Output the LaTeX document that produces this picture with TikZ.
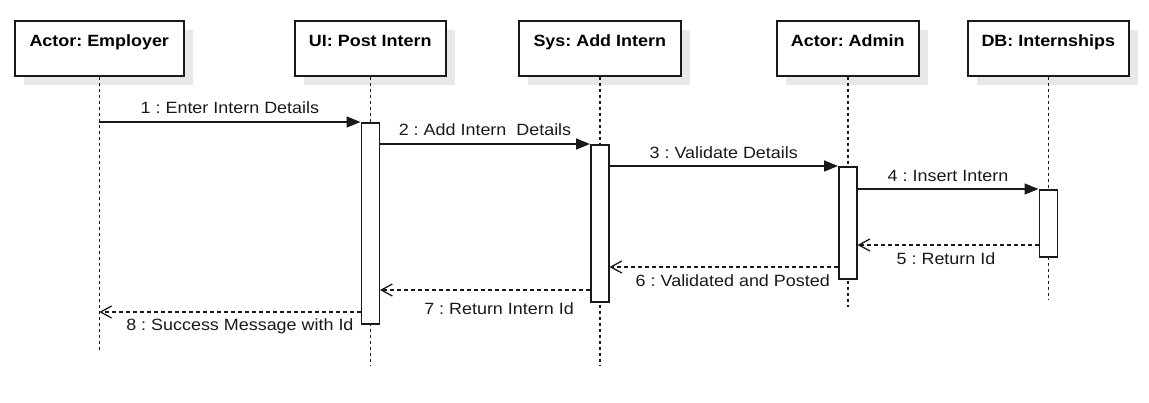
\documentclass[tikz,border=0pt]{standalone}
\usepackage{fontspec}
\setmainfont{Liberation Sans}[FakeStretch=1.1]
\usetikzlibrary{arrows.meta,shadows}
\frenchspacing
\begin{document}
\frenchspacing
\begin{tikzpicture}[x=1pt,y=-1pt,
  objbox/.style={draw=black!90, line width=1.5pt, fill=white, minimum width=#1, minimum height=55pt,
    inner sep=0pt, anchor=north west,
    general shadow={fill=black!9, shadow xshift=9pt, shadow yshift=-9pt}},
  objname/.style={font=\fontsize{16.3}{18}\selectfont\bfseries, text=black, anchor=base},
  lifeline/.style={draw=black!90, line width=1.5pt, dash pattern=on 3pt off 3pt},
  actbar/.style={draw=black!90, line width=1.5pt, fill=white, minimum width=18pt, minimum height=#1,
    inner sep=0pt, anchor=north},
  callmsg/.style={draw=black!90, line width=1.5pt, -{Triangle[length=14pt,width=11pt]}},
  retmsg/.style={draw=black!90, line width=1.4pt, dash pattern=on 4pt off 3pt, -{Straight Barb[length=11pt,width=12pt,line width=1.3pt]}},
  msglbl/.style={font=\fontsize{16.3}{18}\selectfont, text=black!90, anchor=base, inner sep=0pt}]
\useasboundingbox (0,0) rectangle (1149,402);

% object boxes
\node[objbox=169pt] (emp) at (14,20) {};
\node[objbox=151pt] (ui)  at (294,20) {};
\node[objbox=162pt] (sys) at (518,20) {};
\node[objbox=142pt] (adm) at (776,20) {};
\node[objbox=161pt] (db)  at (967,20) {};

\node[objname] (empT) at (emp.north |- 0,46) {Actor: Employer};
\node[objname] (uiT)  at (ui.north |- 0,46) {UI: Post Intern};
\node[objname] (sysT) at (sys.north |- 0,46) {Sys: Add Intern};
\node[objname] (admT) at (adm.north |- 0,46) {Actor: Admin};
\node[objname] (dbT)  at (db.north |- 0,46) {DB: Internships};

% lifeline ends
\coordinate (empE) at (emp.south |- 0,350);
\coordinate (uiE)  at (ui.south |- 0,365);
\coordinate (sysE) at (sys.south |- 0,365);
\coordinate (admE) at (adm.south |- 0,307);
\coordinate (dbE)  at (db.south |- 0,299);

\draw[lifeline] (emp.south) -- (empE);
\draw[lifeline] (ui.south) -- (uiE);
\draw[lifeline] (sys.south) -- (sysE);
\draw[lifeline] (adm.south) -- (admE);
\draw[lifeline] (db.south) -- (dbE);

% activation bars
\node[actbar=201pt] (uiB)  at (ui.south |- 0,122) {};
\node[actbar=157pt] (sysB) at (sys.south |- 0,144) {};
\node[actbar=112pt] (admB) at (adm.south |- 0,166) {};
\node[actbar=67pt]  (dbB)  at (db.south |- 0,189) {};

% messages
\coordinate (m1s) at (emp.south |- uiB.north);
\draw[callmsg] (m1s) -- (uiB.north west)
  node[msglbl, midway, yshift=9pt] (l1) {1 : Enter Intern Details};
\draw[callmsg] (uiB.east |- sysB.north) -- (sysB.north west)
  node[msglbl, midway, yshift=9pt] (l2) {2 : Add Intern\ \ Details};
\draw[callmsg] (sysB.east |- admB.north) -- (admB.north west)
  node[msglbl, midway, yshift=8pt] (l3) {3 : Validate Details};
\draw[callmsg] (admB.east |- dbB.north) -- (dbB.north west)
  node[msglbl, midway, yshift=8pt] (l4) {4 : Insert Intern};

\coordinate (m5s) at (dbB.west |- 0,245);
\coordinate (m5e) at (admB.east |- 0,245);
\draw[retmsg] (m5s) -- (m5e)
  node[msglbl, midway, yshift=-19pt, xshift=-2pt] (l5) {5 : Return Id};
\coordinate (m6s) at (admB.west |- 0,267);
\coordinate (m6e) at (sysB.east |- 0,267);
\draw[retmsg] (m6s) -- (m6e)
  node[msglbl, midway, yshift=-19pt, xshift=9pt] (l6) {6 : Validated and Posted};
\coordinate (m7s) at (sysB.west |- 0,290);
\coordinate (m7e) at (uiB.east |- 0,290);
\draw[retmsg] (m7s) -- (m7e)
  node[msglbl, midway, yshift=-24pt, xshift=14pt] (l7) {7 : Return Intern Id};
\coordinate (m8s) at (uiB.west |- 0,312);
\coordinate (m8e) at (emp.south |- 0,312);
\draw[retmsg] (m8s) -- (m8e)
  node[msglbl, midway, yshift=-18pt, xshift=10pt] (l8) {8 : Success Message with Id};
\end{tikzpicture}
\end{document}
